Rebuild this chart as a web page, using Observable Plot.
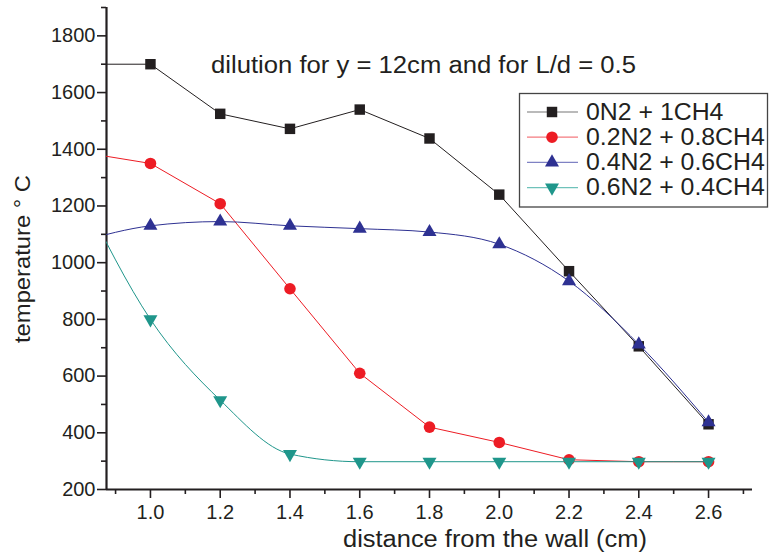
<!DOCTYPE html>
<html>
<head>
<meta charset="utf-8">
<script src="https://cdn.jsdelivr.net/npm/d3@7"></script>
<script src="https://cdn.jsdelivr.net/npm/@observablehq/plot@0.6"></script>
<style>
  html, body { margin: 0; padding: 0; background: #fff; }
  #wrap { position: relative; width: 769px; height: 555px; font-family: "Liberation Sans", Arial, sans-serif; }
  #wrap > svg { position: absolute; left: 0; top: 0; }
</style>
</head>
<body>
<div id="wrap"></div>
<script>
// ---- data ----
const distance = [0.8, 1.0, 1.2, 1.4, 1.6, 1.8, 2.0, 2.2, 2.4, 2.6];
const seriesNames = ["0N2 + 1CH4", "0.2N2 + 0.8CH4", "0.4N2 + 0.6CH4", "0.6N2 + 0.4CH4"];
const temp0N2   = [1700, 1700, 1525, 1472, 1540, 1438, 1240, 970, 705, 430];
const temp02N2  = [1390, 1350, 1208, 908, 610, 420, 366, 305, 298, 298];
const temp04N2  = [1075, 1130, 1145, 1130, 1120, 1108, 1065, 935, 712, 437];
const temp06N2  = [1250, 800, 515, 325, 298, 298, 298, 298, 298, 298];
const xTicks = [1.0, 1.2, 1.4, 1.6, 1.8, 2.0, 2.2, 2.4, 2.6];
const xMinorTicks = [0.9, 1.1, 1.3, 1.5, 1.7, 1.9, 2.1, 2.3, 2.5, 2.7];
const yTicks = [200, 400, 600, 800, 1000, 1200, 1400, 1600, 1800];
const yMinorTicks = [300, 500, 700, 900, 1100, 1300, 1500, 1700, 1900];
const xDomain = [0.874, 2.726];
const yDomain = [200, 1900];
const titleText = "dilution for y = 12cm and for L/d = 0.5";
const xLabel = "distance from the wall (cm)";
const yLabel = "temperature \u00B0 C";

// ---- styles ----
const temps = [temp0N2, temp02N2, temp04N2, temp06N2];
const colors = ["#231f20", "#ed1c24", "#2e3192", "#1f968b"];
const legendLineColors = ["#777", "#f47a7f", "#7f82c4", "#6fc2ba"];
const invTriangle = {
  draw(context, size) {
    const y = -Math.sqrt(size / (Math.sqrt(3) * 3));
    const s3 = Math.sqrt(3);
    context.moveTo(0, -y * 2);
    context.lineTo(-s3 * y, y);
    context.lineTo(s3 * y, y);
    context.closePath();
  }
};
const symbols = ["square", "circle", "triangle", invTriangle];
const radii = [5.9, 5.8, 5.2, 5.2];
const curves = ["linear", "linear", "monotone-x", "monotone-x"];

const rows = seriesNames.flatMap((name, i) =>
  distance.map((x, j) => ({ series: name, x, t: temps[i][j] }))
);

const textColor = "#231f20";
const marks = [];
seriesNames.forEach((name, i) => {
  const d = rows.filter(r => r.series === name);
  marks.push(Plot.line(d, { x: "x", y: "t", stroke: colors[i], strokeWidth: 1, curve: curves[i], clip: true }));
  marks.push(Plot.dot(d.filter(r => r.x >= xDomain[0]), {
    x: "x", y: "t", symbol: symbols[i], r: radii[i], fill: colors[i], stroke: "none"
  }));
});

const chart = Plot.plot({
  width: 769,
  height: 555,
  marginLeft: 106,
  marginRight: 17,
  marginTop: 7,
  marginBottom: 66,
  style: { fontFamily: "'Liberation Sans', Arial, sans-serif", fontSize: "20px", color: textColor, background: "transparent" },
  x: { domain: xDomain },
  y: { domain: yDomain },
  marks: [
    Plot.axisY({ ticks: yTicks, tickSize: 9, tickPadding: 2, fontSize: 20, label: null, tickFormat: d3.format("d"), strokeWidth: 1.6, fill: textColor, stroke: textColor }),
    Plot.axisY({ ticks: yMinorTicks, tickSize: 5, tickFormat: () => "", label: null, strokeWidth: 1.6, stroke: textColor }),
    Plot.axisX({ ticks: xTicks, tickSize: 9, tickPadding: 6, fontSize: 20, label: null, tickFormat: d3.format(".1f"), strokeWidth: 1.6, fill: textColor, stroke: textColor }),
    Plot.axisX({ ticks: xMinorTicks, tickSize: 5, tickFormat: () => "", label: null, strokeWidth: 1.6, stroke: textColor }),
    Plot.ruleX([xDomain[0]], { stroke: textColor, strokeWidth: 2.2 }),
    Plot.ruleY([yDomain[0]], { stroke: textColor, strokeWidth: 2.2 }),
    ...marks
  ]
});

const wrap = document.getElementById("wrap");
wrap.appendChild(chart);

// ---- overlay: title, axis labels, legend ----
const svg = d3.select(wrap).append("svg")
  .attr("width", 769).attr("height", 555)
  .style("font-family", "'Liberation Sans', Arial, sans-serif")
  .attr("fill", textColor);

svg.append("text")
  .attr("x", 211).attr("y", 73)
  .attr("font-size", 23)
  .attr("textLength", 425).attr("lengthAdjust", "spacingAndGlyphs")
  .text(titleText);

svg.append("text")
  .attr("x", 495).attr("y", 547)
  .attr("text-anchor", "middle")
  .attr("font-size", 23)
  .attr("textLength", 304).attr("lengthAdjust", "spacingAndGlyphs")
  .text(xLabel);

svg.append("text")
  .attr("transform", "translate(30,259) rotate(-90)")
  .attr("text-anchor", "middle")
  .attr("font-size", 22)
  .attr("textLength", 168).attr("lengthAdjust", "spacingAndGlyphs")
  .text(yLabel);

const lg = svg.append("g");
lg.append("rect")
  .attr("x", 519.5).attr("y", 93.5).attr("width", 248).attr("height", 113.5)
  .attr("fill", "#fff").attr("stroke", "#444").attr("stroke-width", 1.3);

const symTypes = [d3.symbolSquare, d3.symbolCircle, d3.symbolTriangle, invTriangle];
seriesNames.forEach((name, i) => {
  const cy = 112 + i * 25.2;
  lg.append("line")
    .attr("x1", 527).attr("x2", 578).attr("y1", cy).attr("y2", cy)
    .attr("stroke", legendLineColors[i]).attr("stroke-width", 1.2);
  lg.append("path")
    .attr("transform", `translate(552,${cy})`)
    .attr("d", d3.symbol(symTypes[i], radii[i] * radii[i] * Math.PI)())
    .attr("fill", colors[i]);
  const t = lg.append("text")
    .attr("x", 586).attr("y", cy + 7.5)
    .attr("font-size", 23)
    .text(name);
  const w = t.node().getComputedTextLength();
  t.attr("textLength", w * 1.08).attr("lengthAdjust", "spacingAndGlyphs");
});
</script>
</body>
</html>
